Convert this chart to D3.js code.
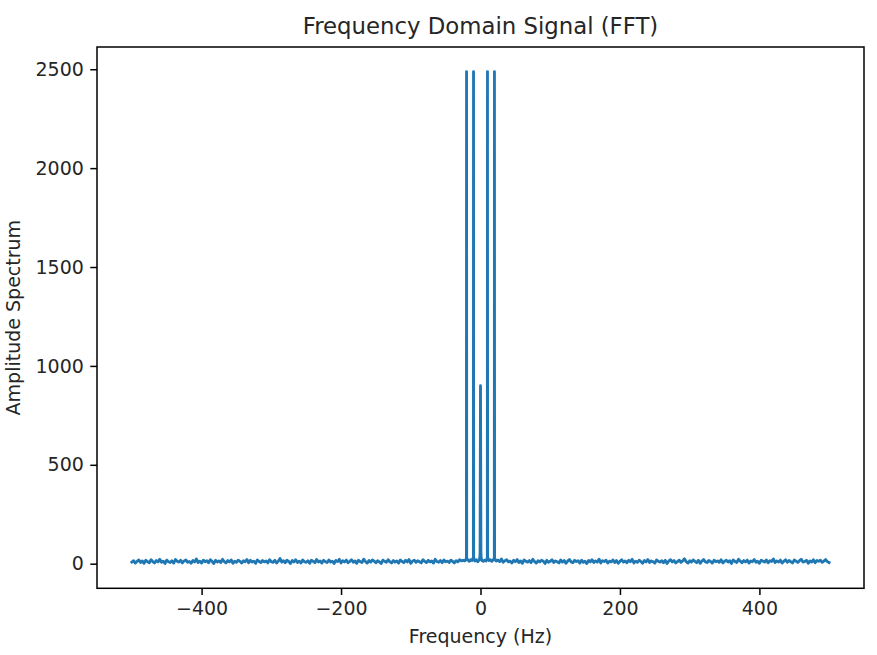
<!DOCTYPE html>
<html lang="en">
<head>
    <meta charset="utf-8">
    <title>Frequency Domain Signal (FFT)</title>
    <script type="text/javascript" src="https://d3js.org/d3.v7.min.js"></script>
    <style type="text/css">
        body {
            margin: 0;
            background: white;
        }
        text {
            font-family: "DejaVu Sans", sans-serif;
            fill: #262626;
        }
    </style>
</head>
<body>
<script type="text/javascript">
    var w = 877;
    var h = 655;

    // noise floor, 2.5 Hz apart, from -500 Hz up to -25 Hz
    var floorLeftStart = -500;
    var floorStep = 2.5;
    var floorLeft = [
        8, 15, 3, 12, 19, 6, 14, 2, 17, 10,
        5, 20, 11, 4, 16, 9, 22, 7, 13, 1,
        18, 10, 6, 15, 3, 21, 12, 8, 17, 4,
        14, 19, 7, 11, 2, 16, 9, 24, 6, 13,
        3, 18, 10, 15, 5, 20, 12, 1, 17, 8,
        14, 6, 22, 11, 4, 16, 9, 19, 2, 13,
        7, 18, 12, 3, 15, 10, 21, 5, 17, 8,
        13, 2, 19, 11, 6, 16, 9, 14, 4, 20,
        10, 7, 17, 3, 12, 26, 8, 15, 5, 18,
        11, 1, 16, 9, 20, 6, 13, 4, 19, 10,
        7, 15, 2, 18, 12, 5, 21, 9, 14, 3,
        17, 10, 6, 19, 8, 13, 1, 16, 11, 22,
        4, 15, 9, 18, 5, 12, 20, 7, 14, 2,
        17, 10, 6, 23, 11, 3, 16, 8, 19, 13,
        5, 15, 9, 1, 18, 12, 7, 20, 10, 4,
        16, 8, 14, 3, 19, 11, 6, 17, 9, 21,
        2, 13, 18, 7, 15, 10, 4, 20, 12, 6,
        17, 9, 14, 3, 22, 11, 7, 16, 5, 19,
        10, 13, 6, 18, 12, 4, 15, 9, 20, 14,
        17
    ];

    // the peaks around 0 Hz
    var centerFreq = [-22.5, -21, -20.2, -20, -19.8, -18, -16, -14, -12, -10.2, -10, -9.8,
        -8, -6, -4, -2, -1, -0.6, -0.2, 0, 0.2, 0.6, 1, 2, 4, 6, 8,
        9.8, 10, 10.2, 12, 14, 16, 18, 19.8, 20, 20.2, 21, 22.5];
    var centerAmp = [14, 22, 30, 2488, 28, 18, 12, 20, 16, 32, 2488, 30,
        14, 20, 10, 18, 30, 55, 610, 900, 610, 55, 30, 16, 12, 18, 14,
        30, 2488, 32, 16, 20, 12, 18, 28, 2488, 30, 22, 14];

    // noise floor, 2.5 Hz apart, from 25 Hz up to 500 Hz
    var floorRightStart = 25;
    var floorRight = [
        18, 11, 24, 7, 15, 20, 9, 13, 4, 17,
        10, 21, 6, 14, 2, 19, 12, 8, 16, 5,
        22, 11, 3, 15, 9, 18, 13, 1, 17, 7,
        12, 20, 6, 14, 10, 4, 19, 8, 16, 2,
        13, 21, 9, 5, 17, 11, 15, 3, 18, 7,
        12, 1, 16, 10, 20, 6, 14, 8, 23, 4,
        15, 11, 18, 3, 13, 9, 19, 6, 16, 2,
        12, 20, 8, 14, 5, 17, 10, 22, 4, 13,
        7, 18, 11, 2, 16, 9, 21, 6, 14, 10,
        3, 19, 12, 8, 15, 5, 17, 1, 13, 20,
        9, 16, 4, 11, 18, 7, 14, 25, 10, 3,
        15, 8, 19, 12, 5, 17, 2, 13, 21, 9,
        6, 16, 11, 3, 18, 10, 14, 7, 20, 4,
        12, 17, 8, 15, 1, 19, 11, 6, 22, 13,
        5, 16, 9, 18, 3, 14, 10, 21, 7, 12,
        2, 17, 13, 8, 19, 5, 15, 11, 24, 6,
        14, 9, 18, 3, 12, 20, 7, 16, 10, 4,
        19, 13, 6, 15, 22, 8, 11, 17, 2, 14,
        9, 20, 5, 16, 12, 18, 7, 13, 21, 10,
        6
    ];

    var xTicks = [-400, -200, 0, 200, 400];
    var yTicks = [0, 500, 1000, 1500, 2000, 2500];

    var spectrum = [];
    floorLeft.forEach(function (a, i) {
        spectrum.push({f: floorLeftStart + i * floorStep, a: a});
    });
    centerFreq.forEach(function (f, i) {
        spectrum.push({f: f, a: centerAmp[i]});
    });
    floorRight.forEach(function (a, i) {
        spectrum.push({f: floorRightStart + i * floorStep, a: a});
    });

    // plot box (window.top is taken, so plot* names)
    var plotLeft = 97, plotRight = 864, plotTop = 47, plotBottom = 588.3;

    // 5% margins like matplotlib
    var fMin = -500, fMax = 500;
    var aMin = 0, aMax = d3.max(spectrum, function (d) { return d.a; });
    var fPad = (fMax - fMin) * 0.05;
    var aPad = (aMax - aMin) * 0.05;

    var x = d3.scaleLinear()
            .domain([fMin - fPad, fMax + fPad])
            .range([plotLeft, plotRight]);
    var y = d3.scaleLinear()
            .domain([aMin - aPad, aMax + aPad])
            .range([plotBottom, plotTop]);

    var svg = d3.select("body").append("svg")
            .attr("width", w)
            .attr("height", h);

    svg.append("rect")
            .attr("width", w)
            .attr("height", h)
            .attr("fill", "white");

    var line = d3.line()
            .x(function (d) { return x(d.f); })
            .y(function (d) { return y(d.a); });

    svg.append("path")
            .datum(spectrum)
            .attr("d", line)
            .attr("fill", "none")
            .attr("stroke", "#1f77b4")
            .attr("stroke-width", 2.85)
            .attr("stroke-linejoin", "round")
            .attr("stroke-linecap", "square");

    // axes
    var xAxis = svg.append("g")
            .attr("transform", "translate(0," + plotBottom + ")")
            .call(d3.axisBottom(x).tickValues(xTicks).tickFormat(d3.format("d"))
                    .tickSize(6.7).tickPadding(6.5).tickSizeOuter(0));
    var yAxis = svg.append("g")
            .attr("transform", "translate(" + plotLeft + ",0)")
            .call(d3.axisLeft(y).tickValues(yTicks).tickFormat(d3.format("d"))
                    .tickSize(6.7).tickPadding(6.5).tickSizeOuter(0));

    [xAxis, yAxis].forEach(function (g) {
        g.select(".domain").remove();
        g.selectAll(".tick line")
                .attr("stroke", "black")
                .attr("stroke-width", 1.5);
        g.selectAll(".tick text")
                .attr("font-family", "DejaVu Sans")
                .attr("font-size", "19px")
                .attr("fill", "#262626");
    });

    // frame
    svg.append("rect")
            .attr("x", plotLeft)
            .attr("y", plotTop)
            .attr("width", plotRight - plotLeft)
            .attr("height", plotBottom - plotTop)
            .attr("fill", "none")
            .attr("stroke", "black")
            .attr("stroke-width", 1.5);

    svg.append("text")
            .attr("x", (plotLeft + plotRight) / 2)
            .attr("y", 34.3)
            .attr("text-anchor", "middle")
            .attr("font-size", "22.8px")
            .text("Frequency Domain Signal (FFT)");

    svg.append("text")
            .attr("x", (plotLeft + plotRight) / 2)
            .attr("y", 643)
            .attr("text-anchor", "middle")
            .attr("font-size", "19px")
            .text("Frequency (Hz)");

    svg.append("text")
            .attr("transform", "translate(20," + (plotTop + plotBottom) / 2 + ") rotate(-90)")
            .attr("text-anchor", "middle")
            .attr("font-size", "19px")
            .text("Amplitude Spectrum");
</script>
</body>
</html>
